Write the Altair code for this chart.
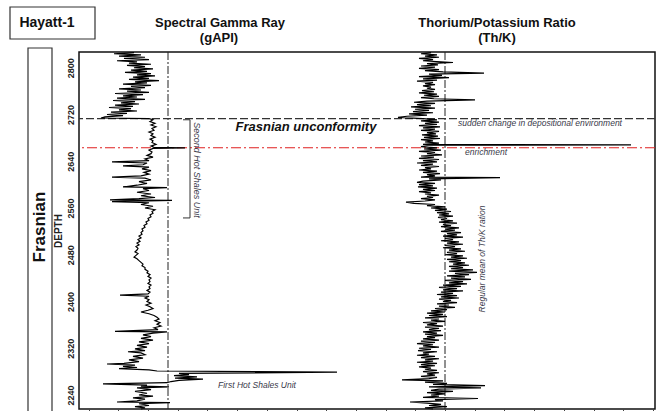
import altair as alt
import pandas as pd

# ---------------- data ----------------
gr_depth = [2826, 2824, 2822, 2820, 2818, 2816, 2814, 2812, 2810, 2808, 2806, 2804, 2802, 2800,
            2798, 2796, 2794, 2792, 2790, 2788, 2786, 2784, 2782, 2780, 2778, 2776, 2774, 2772,
            2770, 2768, 2766, 2764, 2762, 2760, 2758, 2756, 2754, 2752, 2750, 2748, 2746, 2744,
            2742, 2740, 2738, 2736, 2734, 2732, 2730, 2728, 2726, 2724, 2722, 2720, 2718, 2716,
            2714, 2713, 2711, 2708, 2705, 2702, 2699, 2696, 2693, 2690, 2687, 2684, 2681, 2678,
            2675, 2672, 2669, 2666, 2664, 2663, 2662, 2659, 2656, 2653, 2650, 2647, 2644, 2641,
            2639, 2637, 2634, 2632, 2630, 2627, 2624, 2621, 2618, 2615, 2613, 2611, 2608, 2605,
            2602, 2599, 2596, 2595, 2593, 2590, 2587, 2584, 2581, 2578, 2576, 2574, 2573, 2571,
            2569, 2566, 2563, 2560, 2557, 2554, 2551, 2548, 2545, 2542, 2539, 2536, 2533, 2530,
            2527, 2524, 2521, 2518, 2515, 2512, 2509, 2506, 2503, 2500, 2497, 2494, 2491, 2488,
            2485, 2482, 2479, 2476, 2473, 2470, 2467, 2464, 2461, 2458, 2455, 2452, 2449, 2446,
            2443, 2440, 2437, 2434, 2431, 2428, 2425, 2422, 2419, 2416, 2413, 2411, 2409, 2406,
            2403, 2400, 2397, 2394, 2391, 2388, 2385, 2382, 2379, 2376, 2373, 2370, 2367, 2364,
            2361, 2358, 2355, 2352, 2349, 2348, 2346, 2343, 2340, 2337, 2334, 2331, 2328, 2325,
            2322, 2319, 2316, 2314, 2312, 2309, 2306, 2303, 2300, 2297, 2294, 2293, 2291, 2289,
            2287, 2285, 2283, 2281, 2279, 2277, 2275, 2273, 2271, 2269, 2267, 2265, 2263, 2261,
            2259, 2257, 2255, 2254, 2252, 2249, 2246, 2243, 2240, 2238, 2235, 2233, 2230, 2228,
            2227, 2225, 2222, 2220, 2218, 2216]
gr_value = [55, 35, 62, 40, 66, 45, 70, 38, 58, 50, 72, 48, 66, 55,
            74, 52, 68, 46, 72, 58, 76, 54, 70, 50, 80, 56, 68, 44,
            72, 52, 66, 40, 62, 48, 70, 36, 64, 44, 58, 38, 66, 34,
            56, 42, 60, 36, 54, 30, 52, 40, 58, 32, 48, 28, 44, 26,
            22, 70, 74, 71, 76, 72, 77, 73, 75, 70, 74, 72, 76, 71,
            74, 73, 77, 72, 75, 106, 74, 70, 73, 72, 68, 74, 66, 70,
            33, 68, 64, 44, 70, 63, 72, 65, 70, 62, 33, 66, 72, 60,
            68, 58, 44, 88, 64, 70, 58, 72, 62, 76, 60, 31, 93, 33,
            70, 62, 74, 66, 76, 73, 74, 71, 72, 69, 70, 67, 68, 65,
            66, 63, 64, 62, 63, 60, 62, 59, 61, 58, 60, 57, 59, 58,
            56, 59, 57, 55, 58, 60, 62, 64, 63, 66, 66, 69, 68, 71,
            69, 72, 70, 71, 69, 72, 70, 71, 68, 71, 69, 41, 70, 66,
            70, 68, 72, 67, 71, 74, 69, 62, 70, 75, 78, 80, 76, 81,
            78, 82, 75, 79, 36, 88, 74, 64, 72, 62, 74, 60, 70, 58,
            68, 56, 66, 49, 62, 66, 54, 64, 50, 60, 45, 28, 56, 44,
            58, 40, 70, 78, 258, 100, 110, 95, 118, 96, 124, 100, 92, 88,
            24, 68, 62, 90, 58, 72, 56, 68, 60, 74, 54, 66, 58, 38,
            91, 60, 70, 56, 66, 62]

thk_depth = [2826, 2824, 2822, 2820, 2818, 2816, 2814, 2812, 2810, 2809, 2807, 2805, 2803, 2801,
             2799, 2797, 2795, 2793, 2791, 2789, 2787, 2785, 2783, 2781, 2779, 2777, 2775, 2773,
             2771, 2769, 2767, 2765, 2763, 2761, 2759, 2757, 2755, 2753, 2751, 2749, 2747, 2745,
             2743, 2741, 2739, 2737, 2735, 2733, 2731, 2729, 2727, 2725, 2723, 2721, 2719, 2717,
             2715, 2713, 2711, 2709, 2707, 2705, 2703, 2701, 2699, 2697, 2695, 2693, 2691, 2689,
             2687, 2685, 2683, 2681, 2679, 2677, 2675, 2673, 2671, 2669, 2668, 2667, 2665, 2663,
             2661, 2659, 2657, 2655, 2653, 2651, 2649, 2647, 2645, 2643, 2641, 2639, 2637, 2635,
             2633, 2631, 2629, 2627, 2625, 2623, 2621, 2619, 2617, 2615, 2613, 2612, 2610, 2608,
             2606, 2604, 2602, 2600, 2598, 2596, 2594, 2592, 2590, 2588, 2586, 2584, 2582, 2580,
             2578, 2576, 2574, 2572, 2570, 2568, 2566, 2564, 2562, 2560, 2558, 2556, 2554, 2552,
             2550, 2548, 2546, 2544, 2542, 2540, 2538, 2536, 2534, 2532, 2530, 2528, 2526, 2524,
             2522, 2520, 2518, 2516, 2514, 2512, 2510, 2508, 2506, 2504, 2502, 2500, 2498, 2496,
             2494, 2492, 2490, 2488, 2486, 2484, 2482, 2480, 2478, 2476, 2474, 2472, 2470, 2468,
             2466, 2464, 2462, 2460, 2458, 2456, 2454, 2452, 2450, 2448, 2446, 2444, 2442, 2440,
             2438, 2436, 2434, 2432, 2430, 2428, 2426, 2424, 2422, 2420, 2418, 2416, 2414, 2412,
             2410, 2408, 2406, 2404, 2402, 2400, 2398, 2396, 2394, 2392, 2390, 2388, 2386, 2384,
             2382, 2380, 2378, 2376, 2374, 2372, 2370, 2368, 2366, 2364, 2362, 2360, 2358, 2356,
             2354, 2352, 2350, 2348, 2346, 2344, 2342, 2340, 2338, 2336, 2334, 2332, 2330, 2328,
             2326, 2324, 2322, 2320, 2318, 2316, 2314, 2312, 2310, 2308, 2306, 2304, 2302, 2300,
             2298, 2296, 2294, 2292, 2290, 2288, 2286, 2284, 2282, 2280, 2278, 2276, 2274, 2272,
             2270, 2268, 2266, 2264, 2262, 2260, 2258, 2256, 2254, 2252, 2250, 2248, 2246, 2244,
             2242, 2240, 2238, 2236, 2234, 2232, 2230, 2228, 2226, 2224, 2222, 2220, 2218, 2216]
thk_value = [5.2, 4.2, 5.8, 4.6, 6.0, 4.0, 5.4, 4.4, 6.2, 7.4, 4.8, 5.9, 4.2, 5.6,
             4.0, 6.0, 4.6, 6.4, 10.5, 5.0, 6.3, 4.0, 7.0, 4.4, 5.8, 3.8, 5.4, 4.6,
             5.6, 4.4, 5.2, 4.8, 5.6, 4.3, 5.5, 4.0, 5.8, 4.5, 6.0, 4.2, 5.5, 9.6,
             4.8, 3.5, 5.6, 3.8, 5.2, 3.2, 5.6, 3.6, 5.0, 3.4, 5.4, 3.0, 4.8, 2.8,
             1.9, 4.4, 5.8, 4.2, 6.0, 4.6, 5.8, 4.0, 6.1, 4.4, 5.6, 4.2, 6.0, 4.8,
             5.7, 4.3, 5.9, 4.5, 6.1, 4.2, 5.4, 4.6, 6.0, 4.4, 25.2, 5.0, 4.2, 5.8,
             4.5, 6.2, 4.0, 5.6, 4.8, 6.3, 4.2, 5.5, 4.0, 6.0, 4.4, 5.8, 3.8, 5.4,
             4.2, 6.0, 4.6, 5.2, 4.0, 5.8, 4.4, 6.1, 4.8, 5.6, 4.2, 12.1, 5.0, 6.2,
             4.4, 3.8, 5.6, 4.0, 5.4, 3.9, 5.8, 4.4, 5.6, 4.0, 5.2, 4.6, 6.0, 4.8,
             5.4, 4.2, 5.6, 4.6, 2.7, 3.5, 5.6, 4.8, 6.6, 5.2, 6.8, 5.6, 7.2, 5.8,
             7.0, 6.0, 7.4, 5.9, 6.8, 6.2, 7.4, 6.0, 7.8, 6.4, 7.2, 6.2, 8.0, 6.6,
             7.6, 6.2, 8.2, 6.8, 7.8, 6.4, 8.4, 6.6, 7.4, 6.2, 8.0, 6.8, 8.4, 6.6,
             7.6, 6.4, 8.2, 7.0, 8.6, 6.8, 7.8, 6.6, 8.4, 7.2, 8.8, 6.8, 8.2, 7.0,
             8.6, 7.4, 9.0, 7.0, 8.4, 7.2, 9.4, 7.0, 9.8, 7.6, 9.0, 6.8, 8.6, 7.2,
             9.2, 6.6, 8.4, 7.0, 8.8, 6.4, 8.2, 6.0, 7.8, 6.4, 8.4, 6.2, 7.4, 5.8,
             7.8, 6.2, 8.0, 6.0, 7.2, 6.4, 7.8, 5.8, 7.0, 6.0, 7.6, 5.6, 6.8, 5.2,
             6.6, 4.8, 6.4, 5.0, 6.8, 4.6, 6.0, 5.2, 6.6, 4.4, 5.8, 4.8, 6.4, 4.6,
             6.0, 5.0, 6.2, 4.4, 5.8, 4.6, 6.4, 4.8, 5.6, 4.4, 6.0, 4.2, 5.6, 3.8,
             5.4, 4.4, 6.0, 4.0, 5.2, 3.9, 5.8, 4.4, 5.0, 3.8, 5.6, 4.2, 6.0, 4.6,
             5.4, 3.8, 5.8, 4.2, 5.6, 4.0, 5.2, 4.6, 5.8, 4.4, 6.0, 4.8, 5.6, 4.2,
             5.8, 5.0, 2.3, 6.4, 4.6, 6.8, 5.4, 10.6, 5.0, 10.2, 6.0, 5.2, 7.4, 4.8,
             6.6, 5.2, 6.0, 4.4, 9.9, 5.6, 6.4, 3.1, 4.8, 6.2, 5.0, 6.8, 4.6, 5.4]

depth_ticks = [2240, 2320, 2400, 2480, 2560, 2640, 2720, 2800]
gr_mean = 89
thk_mean = 6.6
unconformity_depth = 2713
enrichment_depth = 2663
second_unit_top = 2711
second_unit_base = 2543
bottom_ticks = [9.6, 39.3, 69.0, 98.7, 128.4, 158.1, 187.8, 217.5, 247.2, 276.9,
                306.6, 336.3, 366.0, 395.7, 425.4, 455.1, 484.8, 514.5, 544.2, 573.9]

gr_df = pd.DataFrame({"depth": gr_depth, "gr": gr_value})
thk_df = pd.DataFrame({"depth": thk_depth, "thk": thk_value})

FONT = "Liberation Sans"
y_scale = alt.Scale(domain=[2216, 2827], nice=False, zero=False)
gr_scale = alt.Scale(domain=[0, 576], nice=False, zero=False)
thk_scale = alt.Scale(domain=[-30, 27.6], nice=False, zero=False)

y_axis = alt.Axis(values=depth_ticks, format="d", title="DEPTH", labelAngle=-90,
                  labelAlign="center", labelBaseline="bottom", labelFontSize=9,
                  labelFontWeight="bold", labelColor="#222", ticks=False, tickSize=0,
                  domain=False, grid=False, labelPadding=4, titlePadding=3,
                  titleFontSize=10, titleFontWeight="bold", titleColor="#222",
                  labelFont=FONT, titleFont=FONT)

gr_line = alt.Chart(gr_df).mark_line(color="black", strokeWidth=1.2).encode(
    x=alt.X("gr:Q", scale=gr_scale,
            axis=alt.Axis(values=bottom_ticks, labels=False, tickSize=2, domain=False,
                          grid=False, title=None, tickColor="#444")),
    y=alt.Y("depth:Q", scale=y_scale, axis=y_axis),
    order="depth:Q",
)

thk_line = alt.Chart(thk_df).mark_line(color="black", strokeWidth=1.2).encode(
    x=alt.X("thk:Q", scale=thk_scale, axis=None),
    y=alt.Y("depth:Q", scale=y_scale, axis=y_axis),
    order="depth:Q",
)

base = alt.Chart(pd.DataFrame({"a": [0]}))

gr_mean_rule = base.mark_rule(color="#222", strokeWidth=1, strokeDash=[8, 2, 2, 2]).encode(
    x=alt.X(datum=gr_mean, scale=gr_scale, axis=None))
thk_mean_rule = base.mark_rule(color="#222", strokeWidth=1, strokeDash=[8, 2, 2, 2]).encode(
    x=alt.X(datum=thk_mean, scale=thk_scale, axis=None))

unconf_rule = base.mark_rule(color="#333", strokeWidth=1.2, strokeDash=[8, 3]).encode(
    y=alt.Y(datum=unconformity_depth, scale=y_scale, axis=y_axis))
enrich_rule = base.mark_rule(color="#e02020", strokeWidth=1.1, strokeDash=[10, 3, 2, 3]).encode(
    y=alt.Y(datum=enrichment_depth, scale=y_scale, axis=y_axis))

bracket_v = base.mark_rule(color="#333", strokeWidth=1).encode(
    x=alt.X(datum=111, scale=gr_scale, axis=None),
    y=alt.Y(datum=second_unit_top, scale=y_scale, axis=y_axis),
    y2=alt.Y2(datum=second_unit_base))
bracket_t = base.mark_rule(color="#333", strokeWidth=1).encode(
    x=alt.X(datum=104, scale=gr_scale, axis=None), x2=alt.X2(datum=111),
    y=alt.Y(datum=second_unit_top, scale=y_scale, axis=y_axis))
bracket_b = base.mark_rule(color="#333", strokeWidth=1).encode(
    x=alt.X(datum=104, scale=gr_scale, axis=None), x2=alt.X2(datum=111),
    y=alt.Y(datum=second_unit_base, scale=y_scale, axis=y_axis))


def txt(s, x, y, size, weight="normal", style="normal", angle=0, align="center",
        color="#111"):
    return base.mark_text(text=s, fontSize=size, fontWeight=weight, fontStyle=style,
                          angle=angle, align=align, baseline="middle", font=FONT,
                          color=color).encode(x=alt.value(x), y=alt.value(y))


def box(x1, x2, y1, y2, w=1.2):
    return base.mark_rect(fill=None, stroke="#333", strokeWidth=w).encode(
        x=alt.value(x1), x2=alt.value(x2), y=alt.value(y1), y2=alt.value(y2))


texts = [
    box(-69, 16, -45, -13),
    txt("Hayatt-1", -32, -29, 14, weight="bold"),
    box(-51, -27, -4, 380),
    txt("Frasnian", -39, 175, 17, weight="bold", angle=270),
    txt("Spectral Gamma Ray", 141, -29, 13, weight="bold"),
    txt("(gAPI)", 140, -14, 13, weight="bold"),
    txt("Thorium/Potassium Ratio", 418, -29, 13, weight="bold"),
    txt("(Th/K)", 418, -14, 13, weight="bold"),
    txt("Frasnian unconformity", 227, 75, 13, weight="bold", style="italic"),
    txt("sudden change in depositional environment", 379, 71, 8.5, style="italic",
        align="left", color="#3a3a4a"),
    txt("enrichment", 407, 100, 8.5, style="italic", color="#3a3a4a"),
    txt("Second Hot Shales Unit", 118, 118, 9, style="italic", angle=90, color="#3a3a4a"),
    txt("Regular mean of Th/K ration", 403, 207, 8.5, style="italic", angle=270,
        color="#3a3a4a"),
    txt("First Hot Shales Unit", 178, 333, 8.5, style="italic", color="#3a3a4a"),
]

chart = alt.layer(
    gr_mean_rule, thk_mean_rule, unconf_rule, enrich_rule,
    bracket_v, bracket_t, bracket_b,
    gr_line, thk_line, *texts
).resolve_scale(x="independent").properties(
    width=576, height=357,
    autosize=alt.AutoSizeParams(type="none"),
    padding={"left": 79, "top": 52, "right": 2, "bottom": 2},
    background="white",
).configure_view(stroke="#111", strokeWidth=1.5)

chart.save("out.html", embed_options={"renderer": "svg", "actions": False})
